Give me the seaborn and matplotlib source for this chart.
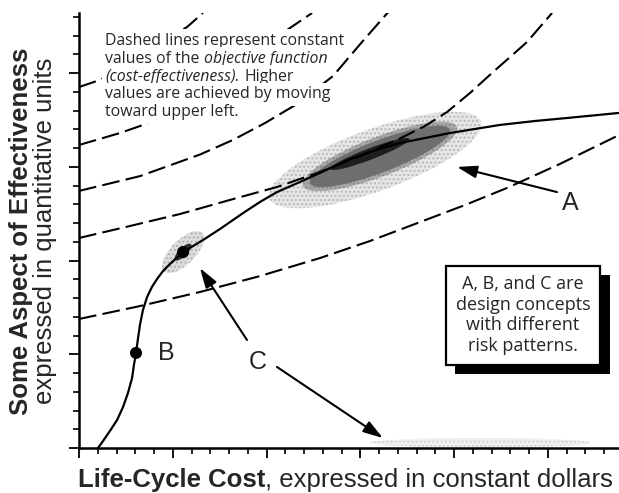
import matplotlib.pyplot as plt
import matplotlib.patheffects as pe
import pandas as pd
import seaborn as sns
from matplotlib.patches import Ellipse
from matplotlib.ticker import MultipleLocator

# solid trade-off curve: life-cycle cost vs effectiveness (minor-tick units)
curve_cost = [1.01, 1.28, 1.65, 2.03, 2.35, 2.61, 2.83, 2.93, 3.04, 3.15, 3.25, 3.41,
              3.63, 3.89, 4.16, 4.48, 4.85, 5.55, 6.61, 7.52, 8.75, 9.65, 10.56, 11.79,
              12.85, 14.08, 15.52, 17.12, 18.45, 19.79, 22.45, 24.32, 26.03, 28.80]
curve_eff = [0.00, 0.37, 0.91, 1.49, 2.19, 2.93, 3.73, 4.43, 5.07, 5.87, 6.56, 7.36,
             8.05, 8.59, 9.01, 9.44, 9.81, 10.45, 11.09, 11.68, 12.53, 13.12, 13.65, 14.19,
             14.67, 15.25, 15.79, 16.27, 16.53, 16.80, 17.23, 17.44, 17.60, 17.87]

# dashed iso-lines of the objective function
iso_cost = {
    "k1": [0.00, 1.12, 5.76, 6.61],
    "k2": [0.00, 2.19, 4.48, 11.09, 12.43],
    "k3": [0.00, 3.25, 6.45, 8.21, 9.92, 11.63, 13.55, 15.09, 16.59],
    "k4": [0.00, 2.72, 5.39, 8.05, 10.56, 12.85, 14.99, 16.96, 18.45, 19.63, 20.85,
           22.08, 22.99, 23.89, 25.23],
    "k5": [0.00, 3.25, 6.45, 9.65, 12.85, 15.52, 18.19, 20.59, 22.83, 25.65, 28.80],
}
iso_eff = {
    "k1": [19.25, 19.63, 22.45, 23.20],
    "k2": [16.16, 16.80, 17.60, 22.29, 23.20],
    "k3": [13.71, 14.50, 15.65, 16.43, 17.33, 18.35, 19.84, 21.65, 23.36],
    "k4": [11.20, 11.84, 12.48, 13.23, 13.92, 14.72, 15.57, 16.43, 17.17, 17.92, 18.93,
           20.05, 20.85, 21.65, 23.20],
    "k5": [6.88, 7.57, 8.32, 9.17, 10.13, 11.04, 12.05, 12.96, 13.87, 15.15, 16.69],
}

# design concepts B and C (point estimates)
dot_names = ["B", "C"]
dot_cost = [3.04, 5.55]
dot_eff = [5.07, 10.45]

# risk clouds (centre, extent, tilt, grey level, speckle)
cloud_cx = [15.79, 16.05, 16.05, 15.52, 5.55, 5.55, 21.40]
cloud_cy = [15.36, 15.55, 15.55, 15.68, 10.45, 10.45, 0.28]
cloud_w = [12.0, 8.8, 8.0, 4.5, 2.9, 1.2, 11.8]
cloud_h = [3.3, 2.1, 1.7, 0.6, 1.3, 0.45, 0.5]
cloud_angle = [20, 21, 21, 21, 45, 45, 0]
cloud_color = ["#e6e6e6", "#a8a8a8", "#6e6e6e", "#1e1e1e", "#dedede", "#303030", "#f0f0f0"]
cloud_speck = ["#b8b8b8", "#8a8a8a", None, None, "#b0b0b0", None, "#d0d0d0"]

# letter labels and their arrows
label_text = ["A", "B", "C"]
label_x = [26.19, 4.64, 9.55]
label_y = [13.07, 5.07, 4.59]
arrow_tail = [(25.49, 13.65), (8.96, 5.76), (10.56, 4.32)]
arrow_head = [(20.16, 14.99), (6.45, 9.60), (16.21, 0.53)]

note_lines = [
    [("Dashed lines represent constant", "normal")],
    [("values of the", "normal"), ("objective function", "italic")],
    [("(cost-effectiveness).", "italic"), ("Higher", "normal")],
    [("values are achieved by moving", "normal")],
    [("toward upper left.", "normal")],
]
box_text = "A, B, and C are\ndesign concepts\nwith different\nrisk patterns."


def main():
    sns.set_theme(style="ticks")
    plt.rcParams["font.family"] = ["Liberation Sans", "DejaVu Sans"]
    plt.rcParams["hatch.linewidth"] = 1.0

    fig = plt.figure(figsize=(6.19, 4.93), dpi=100)
    ax = fig.add_axes([79 / 619, 45 / 493, 540 / 619, 435 / 493])
    ax.set_xlim(0, 28.8)
    ax.set_ylim(0, 23.2)

    for cx, cy, w, h, ang, col, sp in zip(cloud_cx, cloud_cy, cloud_w, cloud_h,
                                          cloud_angle, cloud_color, cloud_speck):
        ax.add_patch(Ellipse((cx, cy), w, h, angle=ang, facecolor=col,
                             edgecolor=sp if sp else "none", lw=0,
                             hatch="...." if sp else None, zorder=1))

    for key in iso_cost:
        df = pd.DataFrame({"cost": iso_cost[key], "eff": iso_eff[key]})
        sns.lineplot(data=df, x="cost", y="eff", ax=ax, color="black", lw=1.5,
                     linestyle=(0, (8.5, 3)), sort=False, estimator=None, zorder=2)

    curve = pd.DataFrame({"cost": curve_cost, "eff": curve_eff})
    sns.lineplot(data=curve, x="cost", y="eff", ax=ax, color="black", lw=1.6,
                 sort=False, estimator=None, zorder=3)
    sns.scatterplot(x=dot_cost, y=dot_eff, ax=ax, color="black", s=75,
                    edgecolor="none", zorder=4)

    for s, x, y in zip(label_text, label_x, label_y):
        ax.text(x, y, s, fontsize=18, ha="center", va="center", zorder=5)
    for tail, head in zip(arrow_tail, arrow_head):
        ax.annotate("", xy=head, xytext=tail, zorder=5,
                    arrowprops=dict(arrowstyle="-|>,head_length=0.8,head_width=0.25",
                                    color="black", lw=1.5, mutation_scale=15,
                                    shrinkA=0, shrinkB=0))

    # note in the upper left, white backing hides the dashed lines
    note_font = dict(family=["Open Sans", "DejaVu Sans"], fontsize=11.4, zorder=6,
                     bbox=dict(facecolor="white", edgecolor="none", pad=2.5))
    for i, pieces in enumerate(note_lines):
        prev = None
        for s, style in pieces:
            if prev is None:
                prev = ax.text(1.39, 21.71 - i * 0.95, s, ha="left", va="center",
                               fontstyle=style, **note_font)
            else:
                prev = ax.annotate(s, xy=(1, 0.5), xycoords=prev, xytext=(3.5, 0),
                                   textcoords="offset points", ha="left", va="center",
                                   fontstyle=style, **note_font)

    box = ax.text(23.68, 7.09, box_text, ha="center", va="center", fontsize=13,
                  family=["Open Sans", "DejaVu Sans"], linespacing=1.17, zorder=6,
                  bbox=dict(boxstyle="square,pad=0.55", facecolor="white",
                            edgecolor="black", lw=1.6))
    box.get_bbox_patch().set_path_effects(
        [pe.SimplePatchShadow(offset=(7, -7), shadow_rgbFace="black", alpha=1.0),
         pe.Normal()])

    sns.despine(ax=ax)
    for side in ["left", "bottom"]:
        ax.spines[side].set_linewidth(1.8)
        ax.spines[side].set_color("black")
    ax.xaxis.set_major_locator(MultipleLocator(5))
    ax.xaxis.set_minor_locator(MultipleLocator(1))
    ax.yaxis.set_major_locator(MultipleLocator(5))
    ax.yaxis.set_minor_locator(MultipleLocator(1))
    ax.tick_params(which="major", length=7, width=1.3, direction="out", color="black",
                   labelbottom=False, labelleft=False)
    ax.tick_params(which="minor", length=4.5, width=1.2, direction="out", color="black")
    ax.set_xlabel("")
    ax.set_ylabel("")

    # axis titles: bold lead-in followed by regular text
    xl = fig.text(78 / 619, 6 / 493, "Life-Cycle Cost", fontsize=18.5,
                  fontweight="bold", ha="left", va="baseline")
    ax.annotate(", expressed in constant dollars", xy=(1, 0), xycoords=xl,
                fontsize=18.5, ha="left", va="bottom", annotation_clip=False)
    fig.text(21 / 619, 262 / 493, "Some Aspect of Effectiveness", fontsize=18.5,
             fontweight="bold", rotation=90, ha="center", va="center")
    fig.text(45 / 619, 262 / 493, "expressed in quantitative units", fontsize=18.5,
             rotation=90, ha="center", va="center")

    fig.savefig("out.png", dpi=100, facecolor="white")
    plt.close(fig)


if __name__ == "__main__":
    main()
